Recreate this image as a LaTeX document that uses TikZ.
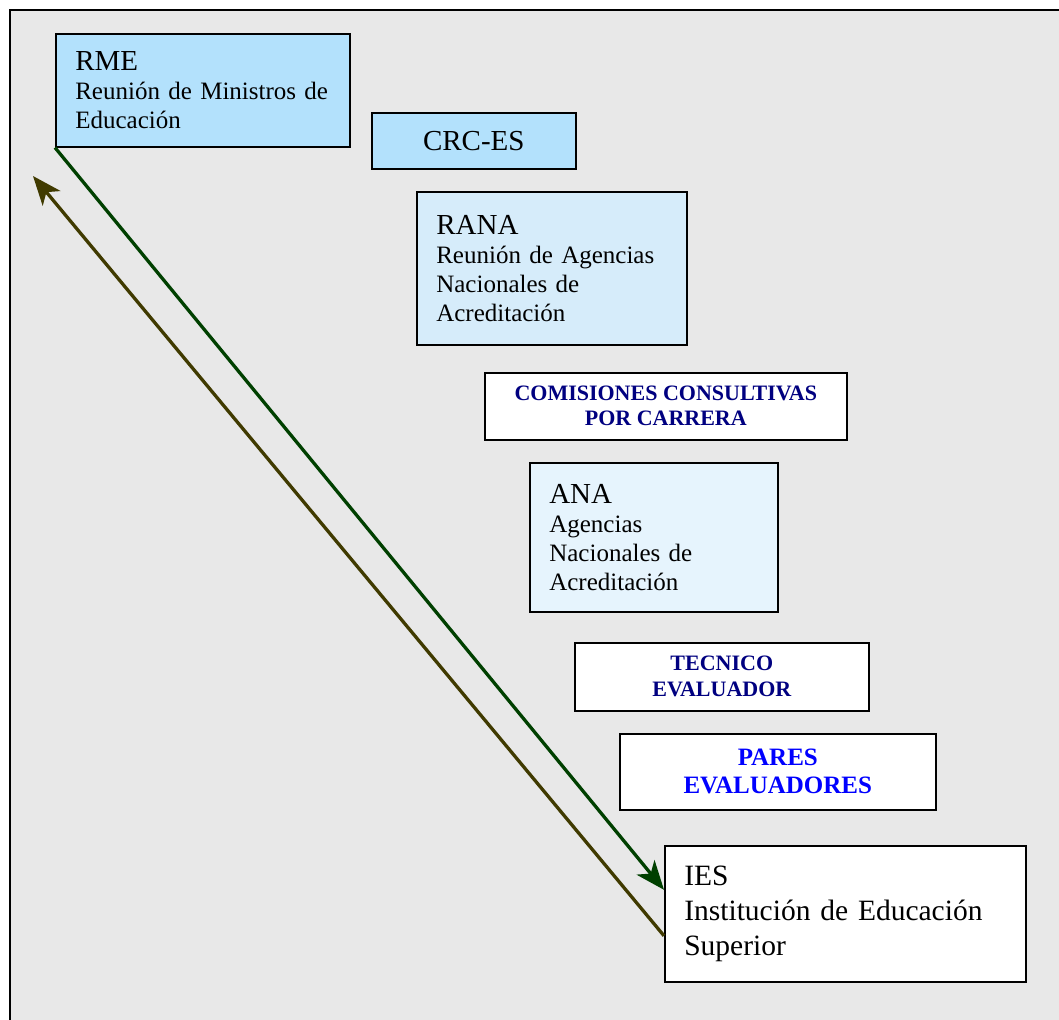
\documentclass[tikz,border=0pt]{standalone}
\usepackage{fontspec}
\setmainfont{Liberation Serif}
\usetikzlibrary{arrows.meta,positioning}

\definecolor{panelgray}{RGB}{232,232,232}
\definecolor{skyblue}{RGB}{179,225,252}
\definecolor{paleblue}{RGB}{214,236,250}
\definecolor{iceblue}{RGB}{230,244,253}
\definecolor{navytext}{RGB}{0,0,128}
\definecolor{bluetext}{RGB}{0,0,255}
\definecolor{downgreen}{RGB}{0,64,0}
\definecolor{upbrown}{RGB}{64,58,0}

\newcommand{\bigtxt}{\fontsize{29}{33}\selectfont}
\newcommand{\subtxt}{\fontsize{25}{29}\selectfont}

\begin{document}
\begin{tikzpicture}[x=1pt,y=-1pt,
    box/.style={draw=black, line width=1.6pt, anchor=north west, inner ysep=0pt},
    leftbox/.style={box, inner xsep=19.5pt, align=left, font=\subtxt},
    capsbox/.style={box, fill=white, align=center, font=\bfseries\fontsize{22}{25}\selectfont, text=navytext},
    flow/.style={line width=3.3pt, -{Stealth[length=29pt,width=23pt,inset=8pt]}}]
    % page and panel
    \clip (0,0) rectangle (1059,1019);
    \fill[white] (0,0) rectangle (1059,1019);
    \fill[panelgray] (10,10) rectangle (1080,1040);
    \draw[line width=1.8pt] (1080,10) -- (10,10) -- (10,1040);

    % organisms, top to bottom
    \node[leftbox, fill=skyblue, text width=255pt, minimum height=113pt] (rme) at (55,33)
        {{\bigtxt RME}\\ Reunión de Ministros de\\ Educación};
    \node[box, fill=skyblue, minimum width=204pt, minimum height=56pt, font=\bigtxt] (crc) at (371,112) {CRC-ES};
    \node[leftbox, fill=paleblue, text width=231pt, minimum height=153pt] (rana) at (416,191)
        {{\bigtxt RANA}\\ Reunión de Agencias\\ Nacionales de\\ Acreditación};
    \node[capsbox, minimum width=362pt, minimum height=67pt] (comis) at (484,372)
        {COMISIONES CONSULTIVAS\\ POR CARRERA};
    \node[leftbox, fill=iceblue, text width=209pt, minimum height=149pt] (ana) at (529,462)
        {{\bigtxt ANA}\\ Agencias\\ Nacionales de\\ Acreditación};
    \node[capsbox, minimum width=294pt, minimum height=68pt, font=\bfseries\fontsize{22}{26}\selectfont] (tec) at (574,642)
        {TECNICO\\ EVALUADOR};
    \node[capsbox, minimum width=316pt, minimum height=76pt, font=\bfseries\fontsize{25}{28}\selectfont, text=bluetext] (pares) at (619,733)
        {PARES\\ EVALUADORES};
    \node[leftbox, fill=white, text width=322pt, minimum height=136pt, font=\fontsize{29.5}{35}\selectfont] (ies) at (664,845)
        {IES\\ Institución de Educación\\ Superior};

    % flows between RME and IES
    \coordinate (backtip) at (33,176);
    \draw[flow, downgreen] (rme.south west) -- ([yshift=24pt]ies.west);
    \draw[flow, upbrown] ([yshift=-22pt]ies.west) -- (backtip);
\end{tikzpicture}
\end{document}
